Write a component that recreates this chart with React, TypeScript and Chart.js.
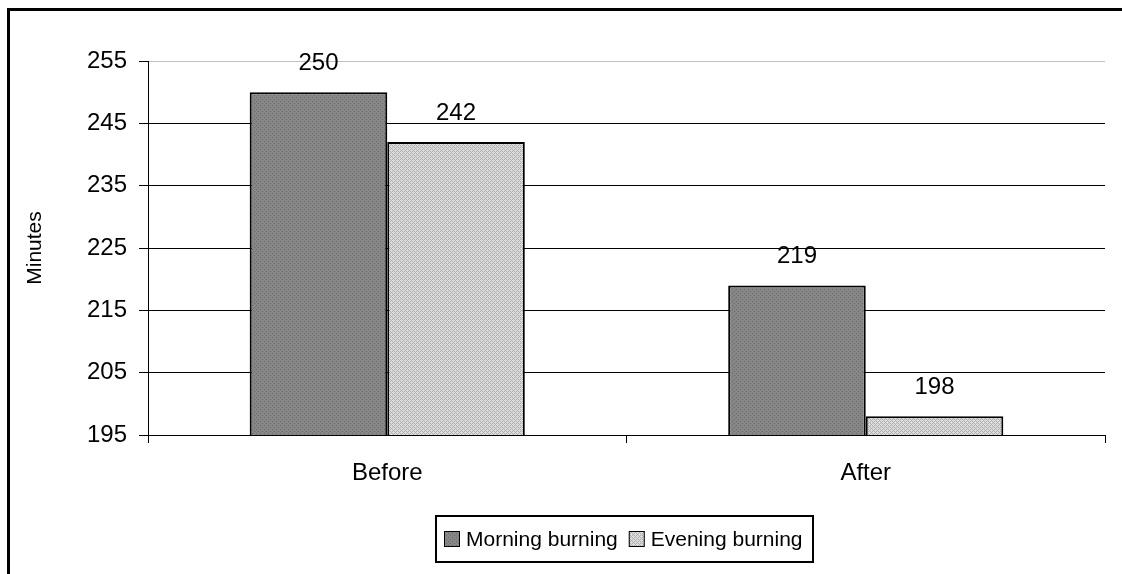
import React, { useEffect, useRef } from "react";
import { Chart, registerables } from "chart.js";

Chart.register(...registerables);

const categories = ["Before", "After"];
const morningValues = [250, 219];
const eveningValues = [242, 198];
const seriesNames = ["Morning burning", "Evening burning"];
const yTickValues = [195, 205, 215, 225, 235, 245, 255];
const yTitle = "Minutes";

const FONT = "'Liberation Sans', Arial, Helvetica, sans-serif";

function makePattern(rows: string[][]): CanvasPattern {
  const c = document.createElement("canvas");
  c.width = rows[0].length;
  c.height = rows.length;
  const g = c.getContext("2d")!;
  rows.forEach((row, y) =>
    row.forEach((col, x) => {
      g.fillStyle = col;
      g.fillRect(x, y, 1, 1);
    })
  );
  return g.createPattern(c, "repeat")!;
}

export default function App() {
  const ref = useRef<HTMLCanvasElement>(null);

  useEffect(() => {
    const canvas = ref.current!;
    const A = "#868686";
    const B = "#6a6a6a";
    const morningFill = makePattern([
      [B, A, A, A],
      [A, A, A, A],
      [A, A, B, A],
      [A, A, A, A],
    ]);
    const L = "#dedede";
    const D = "#acacac";
    const eveningFill = makePattern([
      [D, L, D, L],
      [L, D, L, L],
      [D, L, D, L],
      [L, L, L, D],
    ]);
    const fills = [morningFill, eveningFill];

    const labelPlugin = {
      id: "valueLabels",
      afterDatasetsDraw(chart: any) {
        const ctx = chart.ctx;
        ctx.save();
        ctx.font = `24px ${FONT}`;
        ctx.fillStyle = "#000";
        ctx.textAlign = "center";
        ctx.textBaseline = "middle";
        chart.data.datasets.forEach((ds: any, i: number) => {
          const meta = chart.getDatasetMeta(i);
          meta.data.forEach((bar: any, j: number) => {
            ctx.fillText(String(ds.data[j]), bar.x, bar.y - 29);
          });
        });
        ctx.restore();
      },
    };

    const legendPlugin = {
      id: "boxLegend",
      afterDraw(chart: any) {
        const ctx = chart.ctx;
        ctx.save();
        ctx.font = `21px ${FONT}`;
        const sq = 16,
          gapText = 6,
          gapItem = 11,
          padL = 8,
          padR = 10;
        const widths = seriesNames.map((n) => ctx.measureText(n).width);
        const total =
          padL + sq + gapText + widths[0] + gapItem + sq + gapText + widths[1] + padR;
        const area = chart.chartArea;
        const left = Math.round((area.left + area.right) / 2 - total / 2) - 2;
        const top = Math.round(area.bottom + 81);
        const h = 46;
        ctx.lineWidth = 2;
        ctx.strokeStyle = "#000";
        ctx.strokeRect(left, top, Math.round(total), h);
        let x = left + padL;
        const cy = top + h / 2;
        seriesNames.forEach((name, i) => {
          ctx.fillStyle = fills[i];
          ctx.fillRect(x, Math.round(cy - sq / 2), sq, sq);
          ctx.lineWidth = 1;
          ctx.strokeRect(x + 0.5, Math.round(cy - sq / 2) + 0.5, sq - 1, sq - 1);
          x += sq + gapText;
          ctx.fillStyle = "#000";
          ctx.textAlign = "left";
          ctx.textBaseline = "middle";
          ctx.fillText(name, x, cy + 1);
          x += widths[i] + gapItem;
        });
        ctx.restore();
      },
    };

    const chart = new Chart(canvas, {
      type: "bar",
      data: {
        labels: categories,
        datasets: [
          {
            label: seriesNames[0],
            data: morningValues,
            backgroundColor: morningFill as any,
            borderColor: "#000",
            borderWidth: 2,
            borderSkipped: false,
          },
          {
            label: seriesNames[1],
            data: eveningValues,
            backgroundColor: eveningFill as any,
            borderColor: "#000",
            borderWidth: 2,
            borderSkipped: false,
          },
        ],
      },
      options: {
        responsive: false,
        animation: false,
        layout: { padding: { top: 50, right: 17, bottom: 0, left: 0 } },
        plugins: {
          legend: { display: false },
          tooltip: { enabled: false },
        },
        datasets: { bar: { categoryPercentage: 0.575, barPercentage: 1 } },
        scales: {
          x: {
            grid: {
              offset: true,
              drawOnChartArea: false,
              drawTicks: true,
              tickLength: 8,
              tickColor: "#000",
              tickWidth: 1,
            },
            border: { display: true, color: "#000", width: 1 },
            ticks: { color: "#000", font: { size: 24, family: FONT }, padding: 16 },
            afterFit: (s: any) => {
              s.height = 139;
            },
          },
          y: {
            min: 195,
            max: 255,
            afterBuildTicks: (s: any) => {
              s.ticks = yTickValues.map((v) => ({ value: v }));
            },
            grid: {
              color: (c: any) => (c.tick && c.tick.value === 255 ? "#c0c0c0" : "#000"),
              lineWidth: 1,
              tickLength: 9,
              tickColor: "#000",
            },
            border: { display: true, color: "#000", width: 1 },
            ticks: { color: "#000", font: { size: 24, family: FONT }, padding: 12 },
            title: {
              display: true,
              text: yTitle,
              color: "#000",
              font: { size: 21, family: FONT },
              padding: { top: 13, bottom: 0 },
            },
            afterFit: (s: any) => {
              s.width = 138;
            },
          },
        },
      },
      plugins: [labelPlugin, legendPlugin],
    });
    return () => chart.destroy();
  }, []);

  return (
    <div
      style={{
        position: "fixed",
        left: 7,
        top: 8,
        width: 1112,
        height: 563,
        borderTop: "3px solid #000",
        borderLeft: "3px solid #000",
        background: "#fff",
      }}
    >
      <canvas ref={ref} width={1112} height={563} style={{ display: "block" }} />
    </div>
  );
}
